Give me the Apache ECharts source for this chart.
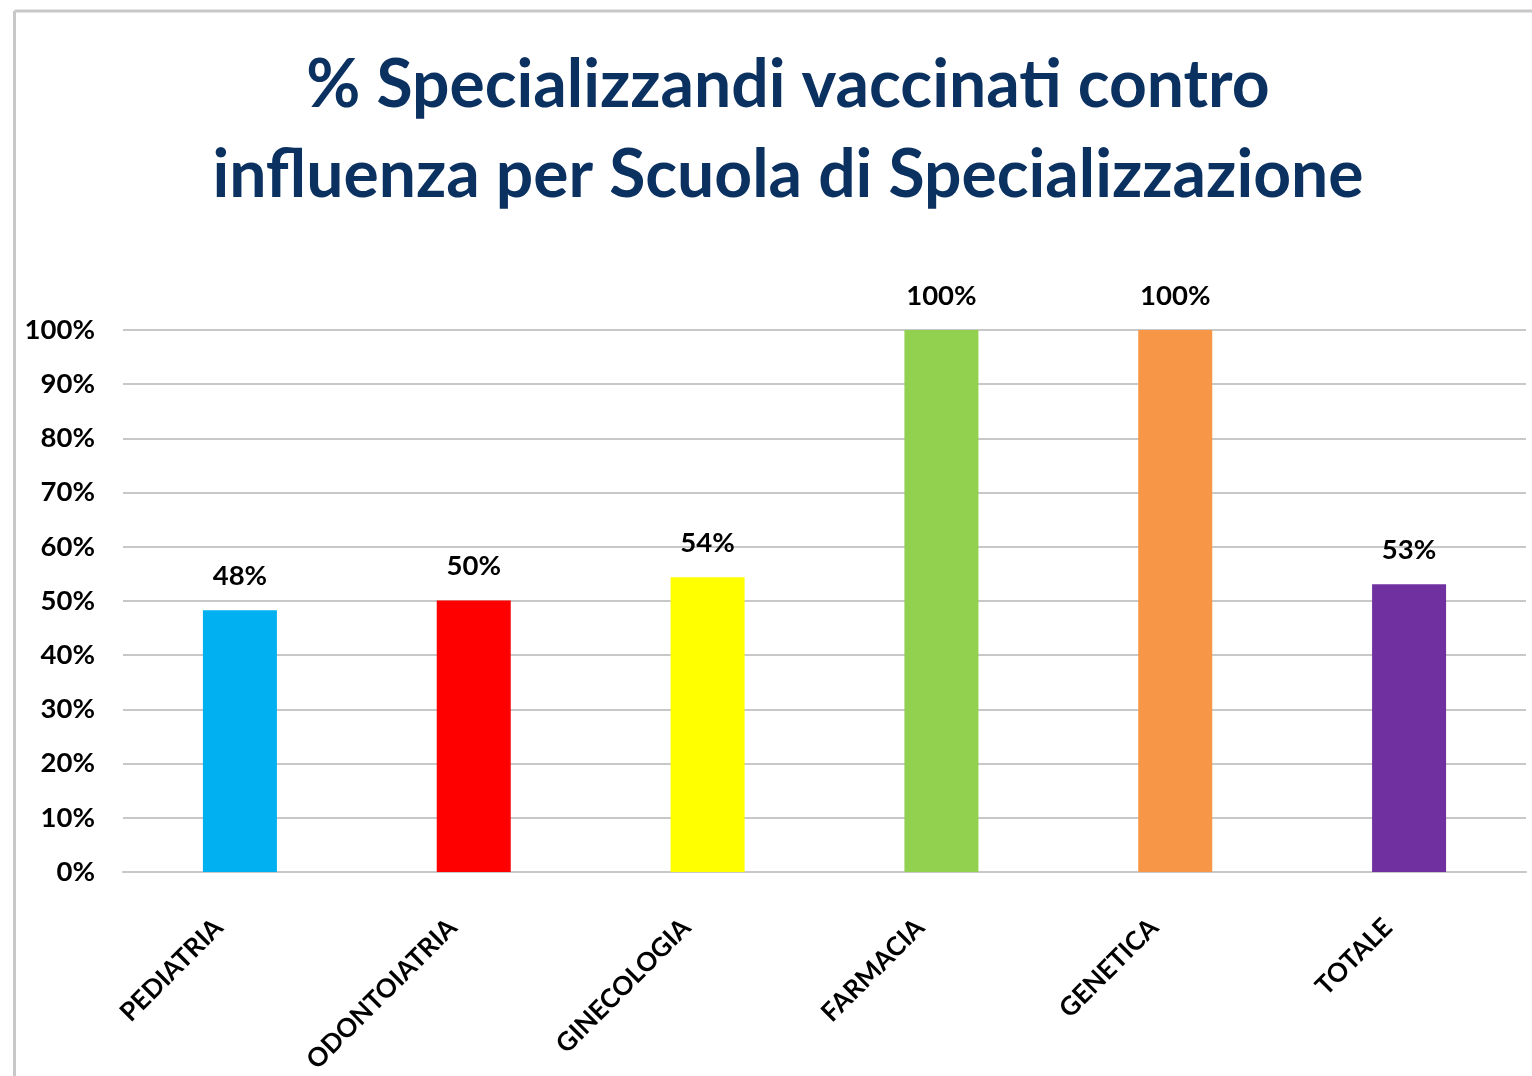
<!DOCTYPE html>
<html>
<head>
<meta charset="utf-8">
<script src="https://cdn.jsdelivr.net/npm/echarts@6/dist/echarts.min.js"></script>
<style>
  html, body { margin: 0; padding: 0; background: #fff; }
  #chart { width: 1532px; height: 1076px; }
</style>
</head>
<body>
<div id="chart"></div>
<script>
// categorie (scuole di specializzazione)
const categories = ['PEDIATRIA', 'ODONTOIATRIA', 'GINECOLOGIA', 'FARMACIA', 'GENETICA', 'TOTALE']
// % vaccinati
const values = [48.3, 50.1, 54.4, 100, 100, 53.1]
const barColors = ['#00b0f0', '#ff0000', '#ffff00', '#92d050', '#f79646', '#7030a0']
const yTicks = [0, 10, 20, 30, 40, 50, 60, 70, 80, 90, 100]

const font = 'Lato'
const chart = echarts.init(document.getElementById('chart'))

const option = {
  animation: false,
  backgroundColor: '#fff',
  title: {
    text: '% Specializzandi vaccinati contro\ninfluenza per Scuola di Specializzazione',
    left: 783,
    textAlign: 'center',
    top: 36,
    textStyle: {
      fontFamily: font,
      fontWeight: 'bold',
      fontSize: 66,
      lineHeight: 90,
      color: '#0b3161'
    }
  },
  // cornice grigia (solo lato sinistro e superiore)
  graphic: [
    { type: 'line', shape: { x1: 14.5, y1: 11, x2: 1532, y2: 11 }, style: { stroke: '#c8c8c8', lineWidth: 3 } },
    { type: 'line', shape: { x1: 14.5, y1: 11, x2: 14.5, y2: 1076 }, style: { stroke: '#c8c8c8', lineWidth: 3 } }
  ],
  grid: {
    left: 123,
    right: 6,
    top: 330,
    bottom: 204,
    containLabel: false
  },
  xAxis: {
    type: 'category',
    data: categories,
    axisTick: { show: false },
    axisLine: { lineStyle: { color: '#c8c8c8', width: 2 } },
    axisLabel: {
      rotate: 45,
      interval: 0,
      margin: 30,
      padding: [0, 30, 0, 0],
      fontFamily: font,
      fontWeight: 'bold',
      fontSize: 26,
      color: '#000'
    }
  },
  yAxis: {
    type: 'value',
    min: yTicks[0],
    max: yTicks[yTicks.length - 1],
    interval: 10,
    axisLine: { show: false },
    axisTick: { show: false },
    splitLine: { lineStyle: { color: '#c8c8c8', width: 2 } },
    axisLabel: {
      formatter: '{value}%',
      margin: 28,
      fontFamily: font,
      fontWeight: 'bold',
      fontSize: 27.5,
      color: '#000'
    }
  },
  series: [{
    type: 'bar',
    barWidth: 74,
    data: values.map((v, i) => ({ value: v, itemStyle: { color: barColors[i] } })),
    label: {
      show: true,
      position: 'top',
      distance: 20,
      formatter: (p) => Math.round(p.value) + '%',
      fontFamily: font,
      fontWeight: 'bold',
      fontSize: 27.5,
      color: '#000'
    }
  }]
}
chart.setOption(option)
</script>
</body>
</html>
